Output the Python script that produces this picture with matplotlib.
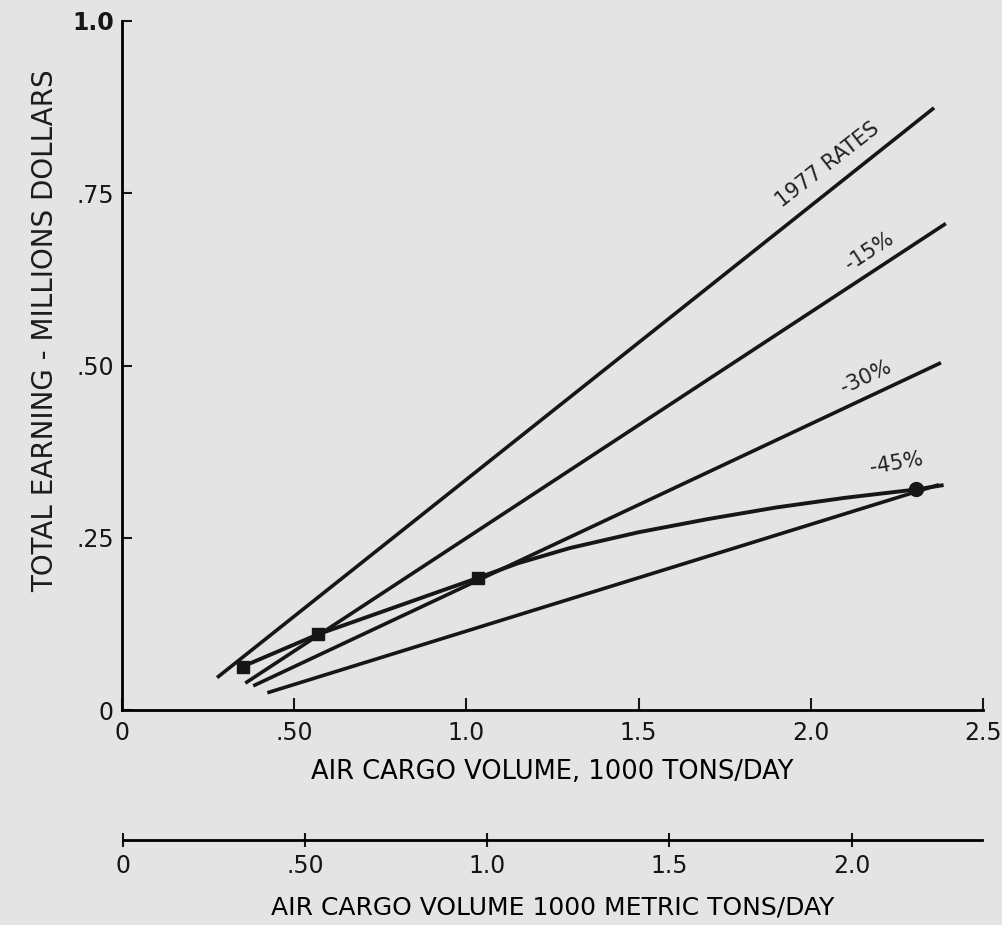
import numpy as np
import matplotlib.pyplot as plt

plt.rcParams['font.family'] = ['DejaVu Sans']
plt.rcParams['text.color'] = '#1c1c1c'

# rate lines (start / end points), 1000 tons/day vs millions $
rate_names = ['1977 RATES', '-15%', '-30%', '-45%']
rate_x = [[0.276, 2.358], [0.358, 2.392], [0.381, 2.378], [0.422, 2.372]]
rate_y = [[0.047, 0.874], [0.039, 0.706], [0.035, 0.504], [0.025, 0.327]]

# label positions and angles for the rate lines
label_x = [2.05, 2.17, 2.16, 2.25]
label_y = [0.792, 0.666, 0.483, 0.358]
label_rot = [38, 33, 25, 10]

# earning curve through the operating points
curve_x = [0.35, 0.57, 1.035, 1.15, 1.3, 1.5, 1.7, 1.9, 2.1, 2.305, 2.38]
curve_y = [0.063, 0.110, 0.192, 0.213, 0.235, 0.258, 0.277, 0.294, 0.308, 0.320, 0.326]
point_x = [0.352, 0.570, 1.035, 2.305]
point_y = [0.0625, 0.110, 0.192, 0.321]

# axis ticks
x_ticks = [0, 0.5, 1.0, 1.5, 2.0, 2.5]
x_tick_labels = ['0', '.50', '1.0', '1.5', '2.0', '2.5']
y_ticks = [0, 0.25, 0.5, 0.75, 1.0]
y_tick_labels = ['0', '.25', '.50', '.75', '1.0']
metric_ticks = [0, 0.5, 1.0, 1.5, 2.0]
metric_tick_labels = ['0', '.50', '1.0', '1.5', '2.0']
metric_max = 2.358

bg = '#e4e4e4'
ink = '#161616'

fig = plt.figure(figsize=(10.03, 9.25), dpi=100, facecolor=bg)
ax = fig.add_axes([122/1003, 1-710/925, 861/1003, 689/925])
ax.set_facecolor(bg)

for i in range(len(rate_names)):
    ax.plot(rate_x[i], rate_y[i], color=ink, linewidth=2.6, solid_capstyle='butt')
    ax.text(label_x[i], label_y[i], rate_names[i], rotation=label_rot[i],
            ha='center', va='center', fontsize=15, color='#222222')

ax.plot(curve_x, curve_y, color=ink, linewidth=2.8)
ax.plot(point_x[:3], point_y[:3], 's', color=ink, markersize=8)
ax.plot(point_x[3:], point_y[3:], 'o', color=ink, markersize=10)

ax.set_xlim(0, 2.5)
ax.set_ylim(0, 1.0)
ax.spines['top'].set_visible(False)
ax.spines['right'].set_visible(False)
ax.spines['left'].set_linewidth(2)
ax.spines['bottom'].set_linewidth(2)
ax.set_xticks(x_ticks)
ax.set_xticklabels(x_tick_labels, fontsize=17)
ax.set_yticks(y_ticks)
ax.set_yticklabels(y_tick_labels, fontsize=17)
ax.get_yticklabels()[-1].set_fontweight('bold')
ax.tick_params(axis='x', direction='in', length=9, width=1.5, pad=8, colors=ink)
ax.tick_params(axis='y', direction='in', length=7, width=1.5, pad=6, colors=ink)
ax.set_xlabel('AIR CARGO VOLUME, 1000 TONS/DAY', fontsize=18.5, labelpad=10)

fig.text(45/1003, 1-331/925, 'TOTAL EARNING - MILLIONS DOLLARS', rotation=90,
         ha='center', va='center', fontsize=20)

# second scale in metric tons
ax2 = fig.add_axes([123/1003, 1-840/925, 859/1003, 0.0005])
ax2.set_facecolor('none')
for s in ['top', 'left', 'right']:
    ax2.spines[s].set_visible(False)
ax2.spines['bottom'].set_linewidth(2)
ax2.set_xlim(0, metric_max)
ax2.set_yticks([])
ax2.set_xticks(metric_ticks)
ax2.set_xticklabels(metric_tick_labels, fontsize=17)
ax2.tick_params(axis='x', direction='inout', length=10, width=1.5, pad=5, colors=ink)
ax2.set_xlabel('AIR CARGO VOLUME 1000 METRIC TONS/DAY', fontsize=18, labelpad=13)

plt.savefig('out.png', dpi=100, facecolor=bg)
